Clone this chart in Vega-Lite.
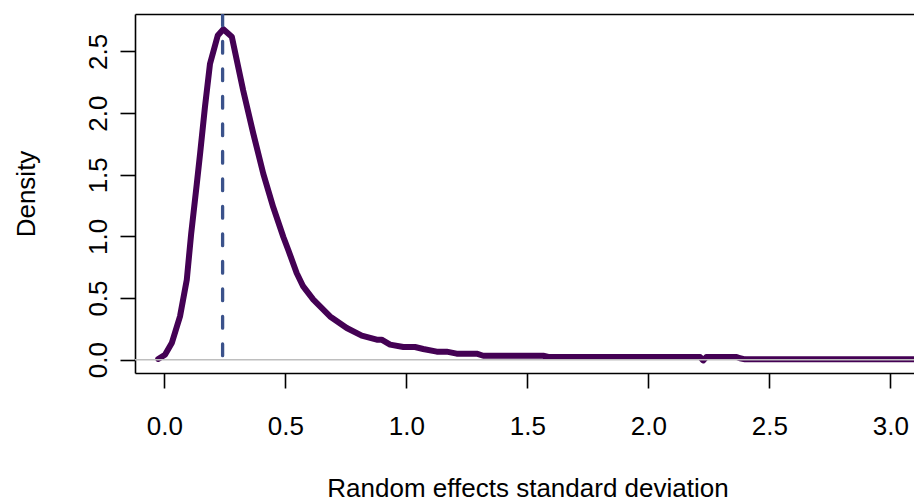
{
  "$schema": "https://vega.github.io/schema/vega-lite/v6.json",
  "width": 779,
  "height": 359,
  "autosize": {"type": "none"},
  "padding": {"left": 135, "top": 14, "right": 0, "bottom": 129},
  "background": "white",
  "config": {
    "view": {"stroke": null},
    "font": "Liberation Sans",
    "axis": {
      "grid": false,
      "domainColor": "black",
      "domainWidth": 1.6,
      "tickColor": "black",
      "tickWidth": 1.6,
      "tickSize": 15,
      "labelFont": "Liberation Sans",
      "labelFontSize": 26,
      "labelColor": "black",
      "titleFont": "Liberation Sans",
      "titleFontSize": 26,
      "titleFontWeight": "normal",
      "titleColor": "black",
      "labelFlush": false,
      "labelOverlap": false
    }
  },
  "datasets": {
    "curve": [
      {"x": -0.025, "y": 0.006},
      {"x": 0.003, "y": 0.04},
      {"x": 0.031, "y": 0.135},
      {"x": 0.065, "y": 0.351},
      {"x": 0.093, "y": 0.649},
      {"x": 0.111, "y": 1.02},
      {"x": 0.134, "y": 1.42},
      {"x": 0.148, "y": 1.671},
      {"x": 0.168, "y": 2.049},
      {"x": 0.189, "y": 2.401},
      {"x": 0.221, "y": 2.63},
      {"x": 0.244, "y": 2.68},
      {"x": 0.279, "y": 2.62},
      {"x": 0.326, "y": 2.184},
      {"x": 0.368, "y": 1.833},
      {"x": 0.409, "y": 1.509},
      {"x": 0.45, "y": 1.238},
      {"x": 0.492, "y": 0.995},
      {"x": 0.512, "y": 0.892},
      {"x": 0.547, "y": 0.703},
      {"x": 0.574, "y": 0.594},
      {"x": 0.616, "y": 0.487},
      {"x": 0.685, "y": 0.351},
      {"x": 0.754, "y": 0.257},
      {"x": 0.816, "y": 0.195},
      {"x": 0.878, "y": 0.162},
      {"x": 0.898, "y": 0.162},
      {"x": 0.933, "y": 0.122},
      {"x": 0.988, "y": 0.103},
      {"x": 1.036, "y": 0.103},
      {"x": 1.07, "y": 0.087},
      {"x": 1.126, "y": 0.065},
      {"x": 1.167, "y": 0.065},
      {"x": 1.208, "y": 0.049},
      {"x": 1.291, "y": 0.049},
      {"x": 1.318, "y": 0.032},
      {"x": 1.566, "y": 0.032},
      {"x": 1.587, "y": 0.022},
      {"x": 2.214, "y": 0.022},
      {"x": 2.227, "y": -0.006},
      {"x": 2.24, "y": 0.022},
      {"x": 2.365, "y": 0.022},
      {"x": 2.379, "y": 0.012},
      {"x": 2.4, "y": 0.003},
      {"x": 3.2, "y": 0.003}
    ],
    "hline": [{"y": 0}],
    "vline": [{"x": 0.241, "ytop": 2.804, "y0": 0}]
  },
  "layer": [
    {
      "data": {"name": "curve"},
      "mark": {"type": "line", "color": "#440154", "strokeWidth": 6, "clip": true, "strokeJoin": "round", "strokeCap": "round"},
      "encoding": {
        "x": {
          "field": "x", "type": "quantitative",
          "scale": {"domain": [-0.121, 3.098], "nice": false, "zero": false},
          "axis": {
            "orient": "bottom",
            "values": [0, 0.5, 1, 1.5, 2, 2.5, 3],
            "format": ".1f",
            "labelBaseline": "alphabetic",
            "labelPadding": 46,
            "title": "Random effects standard deviation",
            "titleX": 392.5,
            "titleY": 123,
            "titleBaseline": "alphabetic",
            "titleAlign": "center"
          }
        },
        "y": {
          "field": "y", "type": "quantitative",
          "scale": {"domain": [-0.108, 2.804], "nice": false, "zero": false},
          "axis": {
            "values": [0, 0.5, 1, 1.5, 2, 2.5],
            "format": ".1f",
            "labelAngle": -90,
            "labelAlign": "center",
            "labelBaseline": "alphabetic",
            "labelPadding": 13.5,
            "title": "Density",
            "titleX": -101,
            "titleY": 179.5,
            "titleAngle": -90,
            "titleBaseline": "alphabetic",
            "titleAlign": "center"
          }
        }
      }
    },
    {
      "data": {"name": "hline"},
      "mark": {"type": "rule", "color": "#bebebe", "strokeWidth": 1.6},
      "encoding": {
        "y": {"field": "y", "type": "quantitative", "title": "Density"}
      }
    },
    {
      "data": {"name": "vline"},
      "mark": {"type": "rule", "color": "#3b528b", "strokeWidth": 3.3, "strokeDash": [11.7, 15.8], "strokeCap": "round", "clip": true},
      "encoding": {
        "x": {
          "field": "x", "type": "quantitative",
          "axis": {"orient": "top", "labels": false, "ticks": false, "title": null, "domain": true}
        },
        "y": {"field": "ytop", "type": "quantitative", "title": "Density"},
        "y2": {"field": "y0"}
      }
    }
  ],
  "resolve": {"axis": {"x": "independent"}}
}
